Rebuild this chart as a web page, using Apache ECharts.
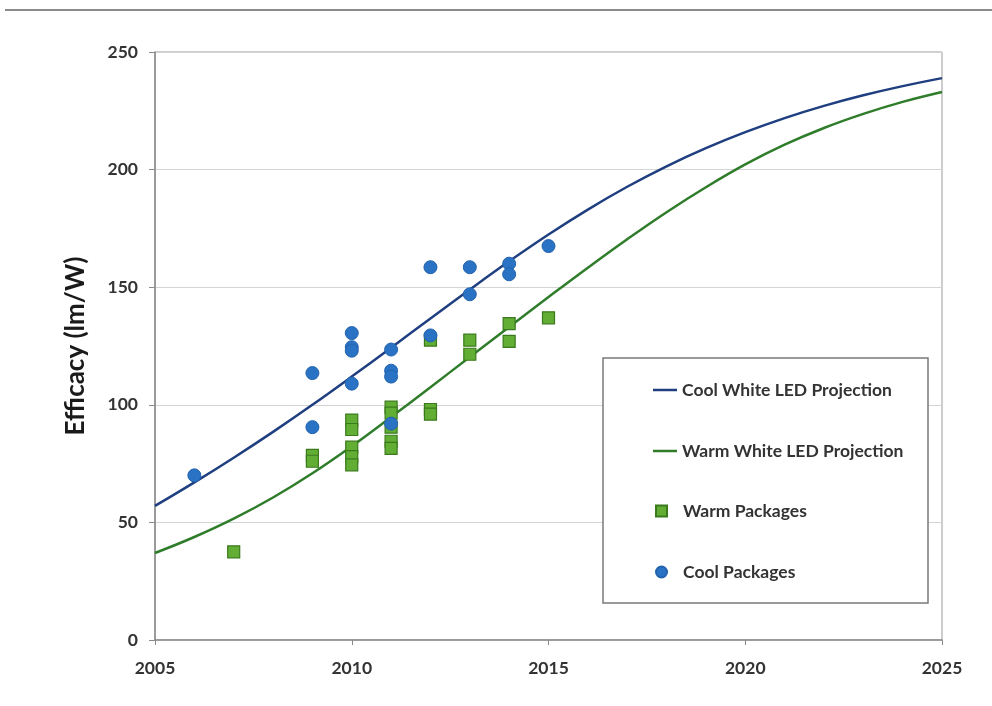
<!DOCTYPE html>
<html>
<head>
<meta charset="utf-8">
<script src="https://cdn.jsdelivr.net/npm/echarts@6/dist/echarts.min.js"></script>
<style>
  html, body { margin: 0; padding: 0; background: #ffffff; }
  #chart { width: 992px; height: 706px; }
</style>
</head>
<body>
<div id="chart"></div>
<script>
// Projection years and efficacy curves (lm/W)
const years = [2005, 2006, 2007, 2008, 2009, 2010, 2011, 2012, 2013, 2014, 2015,
               2016, 2017, 2018, 2019, 2020, 2021, 2022, 2023, 2024, 2025];
const coolProjection = [57, 67, 77.5, 88.5, 100, 112, 124.3, 136.7, 149, 161, 172.4,
                        183, 192.7, 201.4, 209.1, 215.9, 221.9, 227.1, 231.6, 235.5, 238.9];
const warmProjection = [37, 43.8, 51.6, 60.6, 70.9, 82.4, 94.8, 107.5, 120.3, 133.1, 145.8,
                        158.3, 170.4, 181.9, 192.5, 202.2, 210.6, 217.7, 223.7, 228.8, 233];

// Measured packages: [year, efficacy]
const warmPackages = [
  [2007, 37.5],
  [2009, 78.5], [2009, 76],
  [2010, 93.5], [2010, 89.5], [2010, 82], [2010, 78], [2010, 74.5],
  [2011, 99], [2011, 96.5], [2011, 90.5], [2011, 84.5], [2011, 81.5],
  [2012, 127.5], [2012, 98], [2012, 96],
  [2013, 127.5], [2013, 121.5],
  [2014, 134.5], [2014, 127],
  [2015, 137]
];
const coolPackages = [
  [2006, 70],
  [2009, 113.5], [2009, 90.5],
  [2010, 130.5], [2010, 124.5], [2010, 123], [2010, 109],
  [2011, 123.5], [2011, 114.5], [2011, 112], [2011, 92],
  [2012, 158.5], [2012, 129.5],
  [2013, 158.5], [2013, 147],
  [2014, 160], [2014, 155.5],
  [2015, 167.5]
];

const seriesNames = ['Cool White LED Projection', 'Warm White LED Projection', 'Warm Packages', 'Cool Packages'];
const yAxisTitle = 'Efficacy (lm/W)';

const FONT = 'Lato, "Open Sans", sans-serif';
const chart = echarts.init(document.getElementById('chart'));

const pairs = (xs, ys) => xs.map((x, i) => [x, ys[i]]);

const legendText = { fontFamily: FONT, fontSize: 17.5, fontWeight: 'bold', color: '#333', lineHeight: 20 };

chart.setOption({
  backgroundColor: '#ffffff',
  animation: false,
  textStyle: { fontFamily: FONT },
  graphic: [
    {
      type: 'line', z: 1,
      shape: { x1: 5, y1: 10, x2: 992, y2: 10 },
      style: { stroke: '#8a8a8a', lineWidth: 2 }
    },
    {
      // legend frame
      type: 'rect', z: 1,
      shape: { x: 603, y: 358, width: 325, height: 245 },
      style: { fill: '#ffffff', stroke: '#7a7a7a', lineWidth: 1.5 }
    }
  ],
  grid: {
    left: 155, top: 52, right: 50, bottom: 66,
    show: true, borderColor: '#9a9a9a', borderWidth: 1
  },
  legend: [
    {
      // projection lines
      orient: 'vertical', left: 653, top: 380, padding: 0,
      itemGap: 41, itemWidth: 24, itemHeight: 2.5, icon: 'rect',
      textStyle: legendText, z: 5,
      data: [seriesNames[0], seriesNames[1]]
    },
    {
      // measured packages
      orient: 'vertical', left: 655, top: 501, padding: 0,
      itemGap: 41, itemWidth: 11, itemHeight: 11,
      textStyle: Object.assign({}, legendText, { padding: [0, 0, 0, 11] }), z: 5,
      data: [
        { name: seriesNames[2], icon: 'rect' },
        { name: seriesNames[3], icon: 'circle' }
      ]
    }
  ],
  xAxis: {
    type: 'value', min: 2005, max: 2025, interval: 5,
    axisLine: { lineStyle: { color: '#8a8a8a', width: 1.5 } },
    axisTick: { show: true, length: 5, lineStyle: { color: '#8a8a8a' } },
    splitLine: { show: false },
    axisLabel: { fontFamily: FONT, fontSize: 17.5, fontWeight: 'bold', color: '#333', margin: 19, formatter: v => String(v) }
  },
  yAxis: {
    type: 'value', min: 0, max: 250, interval: 50,
    name: yAxisTitle, nameLocation: 'middle', nameRotate: 90, nameGap: 66,
    nameTextStyle: { fontFamily: FONT, fontSize: 26, fontWeight: 'bold', color: '#1a1a1a' },
    axisLine: { show: true, lineStyle: { color: '#8a8a8a', width: 1.5 } },
    axisTick: { show: true, length: 6, lineStyle: { color: '#8a8a8a' } },
    splitLine: { show: true, lineStyle: { color: '#d4d4d4', width: 1 } },
    axisLabel: { fontFamily: FONT, fontSize: 17.5, fontWeight: 'bold', color: '#333', margin: 17 }
  },
  series: [
    {
      name: seriesNames[0], type: 'line', data: pairs(years, coolProjection),
      smooth: 0.4, symbol: 'none', z: 3,
      lineStyle: { color: '#1f3f80', width: 2.5 }, itemStyle: { color: '#1f3f80' }
    },
    {
      name: seriesNames[1], type: 'line', data: pairs(years, warmProjection),
      smooth: 0.4, symbol: 'none', z: 3,
      lineStyle: { color: '#2f7d2a', width: 2.5 }, itemStyle: { color: '#2f7d2a' }
    },
    {
      name: seriesNames[2], type: 'scatter', data: warmPackages,
      symbol: 'rect', symbolSize: 12, z: 4,
      itemStyle: { color: '#62ae35', borderColor: '#3a7a1c', borderWidth: 1.2, opacity: 1 }
    },
    {
      name: seriesNames[3], type: 'scatter', data: coolPackages,
      symbol: 'circle', symbolSize: 13, z: 5,
      itemStyle: { color: '#2a72c4', borderColor: '#2363ae', borderWidth: 1, opacity: 1 }
    }
  ]
});
</script>
</body>
</html>
